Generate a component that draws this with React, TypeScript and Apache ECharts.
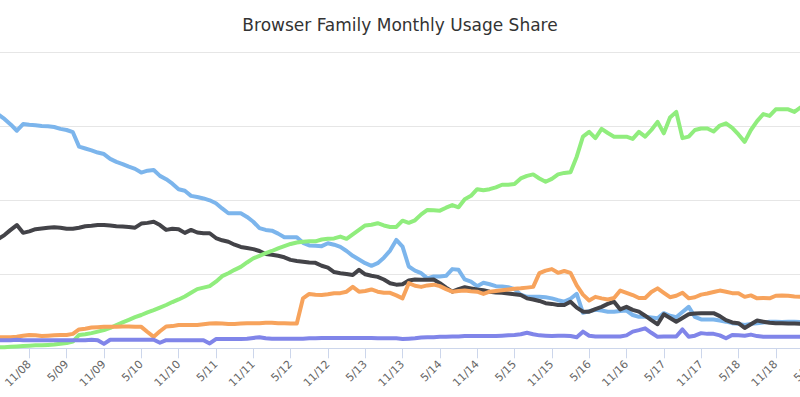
import React, { useEffect, useRef } from "react";
import * as echarts from "echarts";

// Categories: monthly, starting June 2008, through May 2019
const START_YEAR = 2008;
const START_MONTH = 6;
const CATEGORY_COUNT = 132;
const months: string[] = Array.from({ length: CATEGORY_COUNT }, (_, i) => {
  const t = START_MONTH - 1 + i;
  const m = (t % 12) + 1;
  const y = START_YEAR + Math.floor(t / 12);
  return `${m}/${String(y % 100).padStart(2, "0")}`;
});
const LABEL_MONTHS = [5, 11];

const ie = [
  63.2, 62.0, 60.5, 58.8, 60.6, 60.4, 60.3, 60.1, 60.0, 59.8,
  59.3, 59.0, 58.4, 54.5, 54.0, 53.5, 52.9, 52.5, 51.2, 50.4,
  49.8, 49.1, 48.5, 47.5, 48.0, 48.2, 46.6, 45.7, 44.5, 43.0,
  42.6, 41.2, 40.9, 40.5, 40.0, 39.2, 37.8, 36.5, 36.5, 36.5,
  35.5, 34.2, 32.5, 32.0, 31.8, 31.0, 30.0, 30.0, 30.0, 28.5,
  27.8, 27.7, 27.6, 28.4, 28.0, 27.4, 26.3, 25.0, 24.0, 23.0,
  22.3, 23.0, 24.5, 26.4, 29.3, 27.5, 22.1, 21.0, 20.3, 18.9,
  19.4, 19.4, 19.6, 21.4, 21.2, 18.6, 18.0, 16.8, 17.7, 17.3,
  16.8, 16.7, 16.5, 16.0, 14.5, 13.9, 13.9, 13.9, 13.8, 13.5,
  13.0, 12.6, 13.4, 14.7, 9.6, 10.0, 10.4, 10.2, 9.9, 9.9,
  10.1, 10.2, 9.0, 8.5, 8.5, 8.3, 8.1, 9.5, 8.8, 8.4,
  9.8, 11.2, 8.5, 7.8, 7.8, 7.8, 7.5, 7.2, 6.8, 6.6,
  6.3, 6.6, 6.8, 7.0, 7.2, 7.2, 7.1, 7.2, 7.2, 7.1,
];

const firefox = [
  29.5, 30.6, 32.0, 33.3, 31.2, 31.6, 32.2, 32.4, 32.6, 32.7,
  32.6, 32.3, 32.3, 32.6, 33.0, 33.1, 33.3, 33.3, 33.2, 33.0,
  32.9, 32.8, 32.6, 33.7, 33.9, 34.2, 33.3, 32.0, 32.3, 32.2,
  31.2, 32.0, 31.3, 31.1, 31.1, 29.8, 29.2, 28.8, 28.0, 27.4,
  27.1, 26.8, 26.3, 25.5, 25.3, 25.0, 24.6, 23.9, 23.6, 23.4,
  23.2, 23.1, 22.3, 21.8, 20.6, 20.3, 20.1, 19.8, 21.2, 20.0,
  19.6, 19.3, 18.6, 17.6, 17.2, 17.3, 18.3, 18.6, 18.5, 18.5,
  18.6, 17.6, 16.4, 15.3, 16.0, 16.5, 16.2, 15.9, 15.7, 15.3,
  15.1, 15.0, 14.8, 14.6, 14.4, 13.5, 13.2, 12.8, 12.2, 12.0,
  11.7, 11.7, 12.6, 11.0, 9.9, 9.9, 10.6, 11.2, 12.0, 12.6,
  10.5, 11.2, 10.4, 9.9, 8.8, 7.6, 6.5, 9.2, 8.2, 7.2,
  8.2, 9.2, 9.4, 9.5, 9.5, 9.5, 8.7, 7.6, 7.0, 6.8,
  5.5, 6.5, 7.5, 7.2, 6.9, 6.8, 6.8, 6.7, 6.7, 6.6,
];

const chrome = [
  0.3, 0.3, 0.4, 0.5, 0.6, 0.7, 0.8, 0.8, 0.9, 1.0,
  1.2, 1.4, 1.8, 3.6, 3.8, 4.1, 4.5, 4.9, 5.5, 6.3,
  7.0, 7.7, 8.4, 9.0, 9.7, 10.3, 11.0, 11.7, 12.5, 13.2,
  14.0, 15.0, 16.0, 16.4, 16.8, 18.0, 19.5, 20.3, 21.2, 22.0,
  23.2, 24.3, 25.0, 25.7, 26.3, 27.0, 27.6, 28.2, 28.6, 28.8,
  28.9, 28.9, 29.4, 29.6, 29.7, 30.2, 29.6, 30.8, 32.0, 33.2,
  33.4, 33.8, 33.2, 32.8, 32.8, 34.5, 33.9, 34.6, 36.2, 37.4,
  37.3, 37.2, 38.0, 38.7, 38.1, 40.3, 41.2, 43.0, 42.7, 43.0,
  43.5, 44.2, 44.2, 44.4, 45.9, 46.6, 47.0, 45.9, 45.0, 45.8,
  47.0, 47.4, 47.6, 51.8, 57.2, 58.5, 56.8, 59.3, 58.2, 57.2,
  57.2, 57.2, 56.6, 58.5, 57.2, 59.0, 61.2, 58.1, 62.4, 63.9,
  56.8, 57.2, 59.0, 59.4, 59.4, 58.6, 60.2, 60.8, 59.6, 57.8,
  55.8, 59.0, 61.4, 63.3, 62.8, 64.6, 64.6, 64.6, 63.9, 65.1,
];

const safari = [
  3.0, 3.0, 3.0, 3.1, 3.4, 3.6, 3.5, 3.3, 3.4, 3.5,
  3.6, 3.6, 3.9, 5.1, 5.3, 5.6, 5.7, 5.8, 5.8, 5.8,
  5.9, 5.9, 5.8, 5.8, 4.4, 3.1, 4.6, 5.9, 6.0, 6.3,
  6.3, 6.3, 6.3, 6.5, 6.7, 6.8, 6.7, 6.6, 6.6, 6.7,
  6.8, 6.8, 6.8, 6.9, 6.9, 6.8, 6.8, 6.7, 6.7, 13.5,
  14.7, 14.5, 14.4, 14.6, 14.9, 14.9, 15.3, 16.6, 15.3, 15.5,
  15.9, 15.3, 15.0, 15.0, 14.3, 13.5, 17.6, 16.9, 16.6, 17.0,
  17.2, 16.8, 16.0, 15.3, 15.5, 15.6, 15.4, 15.3, 14.7, 15.3,
  15.5, 15.7, 15.9, 16.1, 16.2, 16.4, 16.6, 20.3, 21.0, 21.4,
  20.4, 20.9, 20.4, 17.0, 14.5, 12.9, 13.9, 13.5, 13.2, 13.6,
  15.6, 15.0, 14.4, 13.6, 13.6, 15.2, 16.2, 15.0, 13.8, 14.2,
  15.0, 13.5, 13.8, 14.5, 14.8, 15.2, 15.6, 15.3, 14.9, 14.9,
  13.9, 14.3, 13.5, 13.6, 13.5, 14.2, 14.3, 14.2, 14.0, 13.9,
];

const opera = [
  2.2, 2.2, 2.2, 2.3, 2.2, 2.2, 2.2, 2.2, 2.2, 2.2,
  2.2, 2.2, 2.2, 2.2, 2.2, 2.3, 2.2, 1.2, 2.3, 2.3,
  2.3, 2.3, 2.3, 2.3, 2.3, 2.3, 1.5, 2.2, 2.2, 2.2,
  2.2, 2.2, 2.2, 2.2, 1.3, 2.5, 2.5, 2.5, 2.5, 2.5,
  2.6, 2.8, 3.0, 2.7, 2.6, 2.6, 2.6, 2.6, 2.6, 2.6,
  2.7, 2.7, 2.8, 2.8, 2.8, 2.8, 2.8, 2.8, 2.8, 2.8,
  2.8, 2.7, 2.7, 2.7, 2.7, 2.5, 2.6, 2.7, 2.9, 3.0,
  3.0, 3.1, 3.1, 3.2, 3.2, 3.3, 3.3, 3.3, 3.3, 3.3,
  3.3, 3.4, 3.5, 3.6, 3.8, 4.2, 3.8, 3.5, 3.4, 3.3,
  3.4, 3.4, 3.3, 3.0, 4.5, 3.4, 3.2, 3.2, 3.2, 3.2,
  3.2, 3.5, 4.5, 4.9, 5.4, 4.2, 3.1, 3.2, 3.2, 3.2,
  5.1, 3.1, 3.4, 4.1, 3.9, 3.9, 3.5, 2.7, 3.6, 3.5,
  3.4, 3.7, 3.3, 3.1, 3.1, 3.1, 3.1, 3.1, 3.1, 3.1,
];

const SERIES = [
  { name: "Internet Explorer", data: ie, color: "#7cb5ec" },
  { name: "Firefox", data: firefox, color: "#434348" },
  { name: "Chrome", data: chrome, color: "#90ed7d" },
  { name: "Safari", data: safari, color: "#f7a35c" },
  { name: "Opera", data: opera, color: "#8085e9" },
];

const isLabelMonth = (value: string) =>
  LABEL_MONTHS.includes(parseInt(value.split("/")[0], 10));

export default function App() {
  const ref = useRef<HTMLDivElement>(null);
  useEffect(() => {
    if (!ref.current) return;
    const chart = echarts.init(ref.current, null, { renderer: "svg" });
    chart.setOption({
      animation: false,
      backgroundColor: "#ffffff",
      title: {
        text: "Browser Family Monthly Usage Share",
        left: "center",
        top: 11,
        textStyle: {
          fontFamily: "DejaVu Sans",
          fontSize: 17,
          fontWeight: "normal",
          color: "#333333",
        },
      },
      grid: {
        left: -1.8,
        right: -13.1,
        top: 52.3,
        bottom: 48.7,
        containLabel: false,
        outerBoundsMode: "none",
      },
      xAxis: {
        type: "category",
        data: months,
        boundaryGap: false,
        axisLine: { lineStyle: { color: "#ccd6eb", width: 1 } },
        axisTick: {
          length: 10,
          interval: (_i: number, v: string) => isLabelMonth(v),
          lineStyle: { color: "#ccd6eb" },
        },
        axisLabel: {
          interval: (_i: number, v: string) => isLabelMonth(v),
          rotate: 45,
          margin: 14,
          fontFamily: "DejaVu Sans",
          fontSize: 11,
          color: "#666666",
        },
        splitLine: { show: false },
      },
      yAxis: {
        type: "value",
        min: 0,
        max: 80,
        interval: 20,
        axisLabel: { show: false },
        axisLine: { show: false },
        axisTick: { show: false },
        splitLine: { lineStyle: { color: "#e6e6e6", width: 1 } },
      },
      series: SERIES.map((s) => ({
        type: "line",
        name: s.name,
        data: s.data,
        showSymbol: false,
        symbol: "none",
        color: s.color,
        lineStyle: { width: 4, color: s.color, cap: "round", join: "round" },
      })),
    });
    return () => chart.dispose();
  }, []);
  return (
    <div
      ref={ref}
      style={{ position: "fixed", left: 0, top: 0, width: 800, height: 397 }}
    />
  );
}
